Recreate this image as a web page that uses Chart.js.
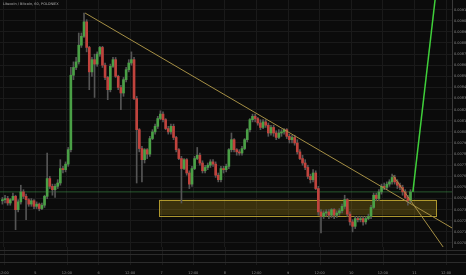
<!DOCTYPE html>
<html>
<head>
<meta charset="utf-8">
<script src="https://cdn.jsdelivr.net/npm/chart.js@4.4.1/dist/chart.umd.min.js"></script>
<style>
  html, body { margin: 0; padding: 0; background: #0b0b0b; }
  #wrap { width: 466px; height: 275px; }
</style>
</head>
<body>
<div id="wrap"><canvas id="grafico" width="466" height="275"></canvas></div>
<script>
// Candles (1h), LTC/BTC
const open = [
  0.00738,0.00739,0.00740,0.00736,0.00739,0.00742,0.00730,0.00737,0.00746,0.00742,
  0.00739,0.00735,0.00738,0.00733,0.00735,0.00731,0.00734,0.00742,0.00758,0.00751,
  0.00748,0.00751,0.00754,0.00767,0.00766,0.00771,0.00784,0.00851,0.00858,0.00863,
  0.00878,0.00886,0.00899,0.00876,0.00854,0.00865,0.00861,0.00870,0.00876,0.00860,
  0.00849,0.00838,0.00859,0.00865,0.00850,0.00840,0.00835,0.00847,0.00856,0.00862,
  0.00865,0.00830,0.00802,0.00785,0.00775,0.00784,0.00780,0.00794,0.00800,0.00805,
  0.00812,0.00816,0.00811,0.00803,0.00800,0.00805,0.00795,0.00784,0.00776,0.00767,
  0.00775,0.00763,0.00753,0.00767,0.00776,0.00779,0.00772,0.00765,0.00768,0.00770,
  0.00773,0.00771,0.00761,0.00757,0.00767,0.00766,0.00769,0.00784,0.00793,0.00784,
  0.00782,0.00781,0.00785,0.00793,0.00802,0.00811,0.00814,0.00812,0.00808,0.00804,
  0.00809,0.00806,0.00799,0.00804,0.00799,0.00795,0.00799,0.00800,0.00802,0.00796,
  0.00793,0.00795,0.00790,0.00782,0.00776,0.00772,0.00768,0.00760,0.00757,0.00763,
  0.00749,0.00728,0.00724,0.00727,0.00728,0.00725,0.00730,0.00725,0.00727,0.00729,
  0.00733,0.00739,0.00726,0.00719,0.00715,0.00722,0.00721,0.00722,0.00719,0.00722,
  0.00724,0.00732,0.00743,0.00740,0.00746,0.00751,0.00750,0.00753,0.00755,0.00759,
  0.00755,0.00752,0.00750,0.00746,0.00741,0.00738
];
const high = [
  0.00741,0.00743,0.00742,0.00740,0.00745,0.00743,0.00739,0.00752,0.00748,0.00744,
  0.00740,0.00740,0.00739,0.00737,0.00736,0.00736,0.00743,0.00781,0.00760,0.00753,
  0.00753,0.00757,0.00775,0.00769,0.00773,0.00786,0.00858,0.00863,0.00867,0.00889,
  0.00889,0.00907,0.00901,0.00877,0.00867,0.00870,0.00872,0.00877,0.00877,0.00862,
  0.00850,0.00861,0.00867,0.00867,0.00851,0.00842,0.00849,0.00858,0.00865,0.00872,
  0.00867,0.00832,0.00803,0.00787,0.00785,0.00785,0.00796,0.00802,0.00807,0.00814,
  0.00819,0.00818,0.00812,0.00805,0.00807,0.00807,0.00796,0.00785,0.00778,0.00776,
  0.00776,0.00765,0.00769,0.00778,0.00786,0.00781,0.00774,0.00770,0.00772,0.00775,
  0.00775,0.00773,0.00763,0.00769,0.00769,0.00771,0.00785,0.00799,0.00794,0.00785,
  0.00784,0.00787,0.00794,0.00803,0.00812,0.00816,0.00816,0.00813,0.00811,0.00811,
  0.00811,0.00808,0.00806,0.00806,0.00801,0.00802,0.00802,0.00803,0.00803,0.00798,
  0.00797,0.00797,0.00793,0.00784,0.00779,0.00775,0.00770,0.00762,0.00766,0.00765,
  0.00751,0.00730,0.00729,0.00730,0.00730,0.00731,0.00731,0.00729,0.00731,0.00735,
  0.00743,0.00740,0.00728,0.00721,0.00724,0.00724,0.00724,0.00724,0.00724,0.00726,
  0.00734,0.00745,0.00745,0.00748,0.00753,0.00754,0.00755,0.00757,0.00762,0.00761,
  0.00757,0.00754,0.00752,0.00748,0.00743,0.00748
];
const low = [
  0.00735,0.00736,0.00734,0.00734,0.00738,0.00712,0.00728,0.00735,0.00740,0.00721,
  0.00733,0.00733,0.00731,0.00731,0.00729,0.00730,0.00732,0.00740,0.00749,0.00743,
  0.00741,0.00749,0.00752,0.00763,0.00764,0.00769,0.00782,0.00847,0.00856,0.00861,
  0.00876,0.00885,0.00872,0.00838,0.00850,0.00831,0.00859,0.00868,0.00858,0.00847,
  0.00829,0.00836,0.00858,0.00849,0.00838,0.00820,0.00832,0.00845,0.00854,0.00860,
  0.00829,0.00754,0.00782,0.00755,0.00772,0.00776,0.00778,0.00793,0.00798,0.00803,
  0.00811,0.00809,0.00802,0.00798,0.00798,0.00793,0.00782,0.00775,0.00736,0.00766,
  0.00761,0.00749,0.00751,0.00766,0.00775,0.00770,0.00763,0.00763,0.00766,0.00768,
  0.00769,0.00759,0.00755,0.00755,0.00763,0.00764,0.00767,0.00782,0.00782,0.00779,
  0.00779,0.00779,0.00784,0.00791,0.00800,0.00809,0.00809,0.00806,0.00802,0.00803,
  0.00804,0.00796,0.00797,0.00796,0.00793,0.00794,0.00796,0.00798,0.00794,0.00790,
  0.00790,0.00788,0.00780,0.00775,0.00770,0.00766,0.00758,0.00754,0.00755,0.00748,
  0.00725,0.00709,0.00722,0.00724,0.00722,0.00723,0.00722,0.00723,0.00725,0.00727,
  0.00731,0.00724,0.00716,0.00710,0.00713,0.00719,0.00719,0.00716,0.00717,0.00721,
  0.00722,0.00731,0.00738,0.00738,0.00744,0.00748,0.00748,0.00751,0.00753,0.00753,
  0.00749,0.00748,0.00743,0.00740,0.00734,0.00736
];
const close = [
  0.00739,0.00740,0.00736,0.00739,0.00742,0.00730,0.00737,0.00746,0.00742,0.00739,
  0.00735,0.00738,0.00733,0.00735,0.00731,0.00734,0.00742,0.00758,0.00751,0.00748,
  0.00751,0.00754,0.00767,0.00766,0.00771,0.00784,0.00851,0.00858,0.00863,0.00878,
  0.00886,0.00899,0.00876,0.00854,0.00865,0.00861,0.00870,0.00876,0.00860,0.00849,
  0.00838,0.00859,0.00865,0.00850,0.00840,0.00835,0.00847,0.00856,0.00862,0.00865,
  0.00830,0.00802,0.00785,0.00775,0.00784,0.00780,0.00794,0.00800,0.00805,0.00812,
  0.00816,0.00811,0.00803,0.00800,0.00805,0.00795,0.00784,0.00776,0.00767,0.00775,
  0.00763,0.00753,0.00767,0.00776,0.00779,0.00772,0.00765,0.00768,0.00770,0.00773,
  0.00771,0.00761,0.00757,0.00767,0.00766,0.00769,0.00784,0.00793,0.00784,0.00782,
  0.00781,0.00785,0.00793,0.00802,0.00811,0.00814,0.00812,0.00808,0.00804,0.00809,
  0.00806,0.00799,0.00804,0.00799,0.00795,0.00799,0.00800,0.00802,0.00796,0.00793,
  0.00795,0.00790,0.00782,0.00776,0.00772,0.00768,0.00760,0.00757,0.00763,0.00749,
  0.00728,0.00724,0.00727,0.00728,0.00725,0.00730,0.00725,0.00727,0.00729,0.00733,
  0.00739,0.00726,0.00719,0.00715,0.00722,0.00721,0.00722,0.00719,0.00722,0.00724,
  0.00732,0.00743,0.00740,0.00746,0.00751,0.00750,0.00753,0.00755,0.00759,0.00755,
  0.00752,0.00750,0.00746,0.00741,0.00738,0.00746
];

// Eixo do tempo (índice da vela) e rótulos
const tickIndex = [0.5, 12.5, 24.5, 36.5, 48.5, 60.5, 72.5, 84.5, 96.5, 108.5, 120.5, 132.5, 144.5, 156.5, 168.5];
const tickLabels = ["12:00", "5", "12:00", "6", "12:00", "7", "12:00", "8", "12:00", "9", "12:00", "10", "12:00", "11", "12:00"];

// Desenhos: linhas de tendência, projeção e zona
const trendLong = [[31.4, 0.00907], [170.8, 0.007135]];
const trendSteep = [[148.3, 0.00761], [168.1, 0.00694]];
const projection = [[155.9, 0.00746], [165.2, 0.009367]];
const zoneTime = [59.5, 164.7];
const zonePrice = [0.00739, 0.00725];

const xMin = -0.91;
const xMax = 170.76;
const lastPrice = close[close.length - 1];

const wicks = close.map((c, i) => ({ x: i, y: [low[i], high[i]] }));
const bodies = close.map((c, i) => ({ x: i, y: [open[i], c] }));
const bodyColors = close.map((c, i) => (c >= open[i] ? "#4aa046" : "#c0433d"));

function pontos(par) {
  return par.map((p) => ({ x: p[0], y: p[1] }));
}

// Zona amarela, título e painel inferior
const desenhos = {
  id: "desenhos",
  beforeDatasetsDraw(chart) {
    const { ctx, scales } = chart;
    const x1 = scales.x.getPixelForValue(zoneTime[0]);
    const x2 = scales.x.getPixelForValue(zoneTime[1]);
    const y1 = scales.y.getPixelForValue(zonePrice[0]);
    const y2 = scales.y.getPixelForValue(zonePrice[1]);
    ctx.save();
    ctx.fillStyle = "rgba(170, 140, 20, 0.3)";
    ctx.fillRect(x1, y1, x2 - x1, y2 - y1);
    ctx.strokeStyle = "rgba(190, 165, 50, 0.9)";
    ctx.lineWidth = 1;
    ctx.strokeRect(Math.round(x1) + 0.5, Math.round(y1) + 0.5, Math.round(x2 - x1), Math.round(y2 - y1));
    ctx.restore();
  },
  afterDraw(chart) {
    const { ctx, chartArea, scales } = chart;
    const b = chartArea.bottom;
    ctx.save();
    ctx.strokeStyle = "#1a1a1a";
    ctx.lineWidth = 1;
    tickIndex.forEach((v) => {
      const x = Math.round(scales.x.getPixelForValue(v)) + 0.5;
      ctx.beginPath();
      ctx.moveTo(x, b);
      ctx.lineTo(x, b + 18);
      ctx.stroke();
    });
    ctx.strokeStyle = "#2c2c2c";
    [b + 3.5, b + 7.5, b + 15.5].forEach((y) => {
      ctx.beginPath();
      ctx.moveTo(0, y);
      ctx.lineTo(chart.width, y);
      ctx.stroke();
    });
    ctx.fillStyle = "#b0b0b0";
    ctx.font = "3.5px 'DejaVu Sans'";
    ctx.textBaseline = "middle";
    ctx.fillText("Litecoin / Bitcoin, 60, POLONIEX", 3, 4);
    ctx.restore();
  },
};

const grafico = document.getElementById("grafico");

new Chart(grafico, {
  type: "bar",
  data: {
    datasets: [
      {
        label: "Preço atual",
        type: "line",
        data: [{ x: xMin, y: lastPrice }, { x: xMax, y: lastPrice }],
        borderColor: "rgba(60, 140, 70, 0.6)",
        borderWidth: 1,
        pointRadius: 0,
        order: 5,
      },
      {
        label: "Pavio",
        data: wicks,
        backgroundColor: "#555555",
        barThickness: 1,
        grouped: false,
        order: 4,
      },
      {
        label: "Corpo",
        data: bodies,
        backgroundColor: bodyColors,
        barThickness: 2,
        minBarLength: 1,
        grouped: false,
        order: 3,
      },
      {
        label: "Tendência longa",
        type: "line",
        data: pontos(trendLong),
        borderColor: "#a58f45",
        borderWidth: 1,
        pointRadius: 0,
        order: 2,
      },
      {
        label: "Tendência curta",
        type: "line",
        data: pontos(trendSteep),
        borderColor: "#a58f45",
        borderWidth: 1,
        pointRadius: 0,
        order: 2,
      },
      {
        label: "Projeção",
        type: "line",
        data: pontos(projection),
        borderColor: "#3fcf3a",
        borderWidth: 1.5,
        pointRadius: 0,
        order: 1,
      },
    ],
  },
  options: {
    responsive: false,
    animation: false,
    devicePixelRatio: 1,
    layout: { padding: 0, autoPadding: false },
    plugins: {
      legend: { display: false },
      tooltip: { enabled: false },
    },
    scales: {
      x: {
        type: "linear",
        min: xMin,
        max: xMax,
        offset: false,
        grid: { color: "#1a1a1a", drawTicks: false, offset: false },
        border: { display: false },
        afterBuildTicks: (scale) => {
          scale.ticks = tickIndex.map((v) => ({ value: v }));
        },
        afterFit: (scale) => {
          scale.height = 28;
          scale.paddingLeft = 0;
          scale.paddingRight = 0;
        },
        ticks: {
          color: "#8a8a8a",
          font: { size: 3.5, family: "DejaVu Sans" },
          padding: 24,
          autoSkip: false,
          maxRotation: 0,
          callback: (v) => {
            const k = tickIndex.indexOf(v);
            return k >= 0 ? tickLabels[k] : "";
          },
        },
      },
      y: {
        position: "right",
        min: 0.006964,
        max: 0.009187,
        grid: { color: "#1a1a1a", drawTicks: false },
        border: { display: true, color: "#3a3a3a" },
        afterFit: (scale) => {
          scale.width = 14;
          scale.paddingTop = 0;
          scale.paddingBottom = 0;
        },
        ticks: {
          stepSize: 0.0001,
          includeBounds: false,
          color: "#8a8a8a",
          font: { size: 3.5, family: "DejaVu Sans" },
          padding: 2,
          callback: (v) => v.toFixed(7),
        },
      },
    },
  },
  plugins: [desenhos],
});
</script>
</body>
</html>
